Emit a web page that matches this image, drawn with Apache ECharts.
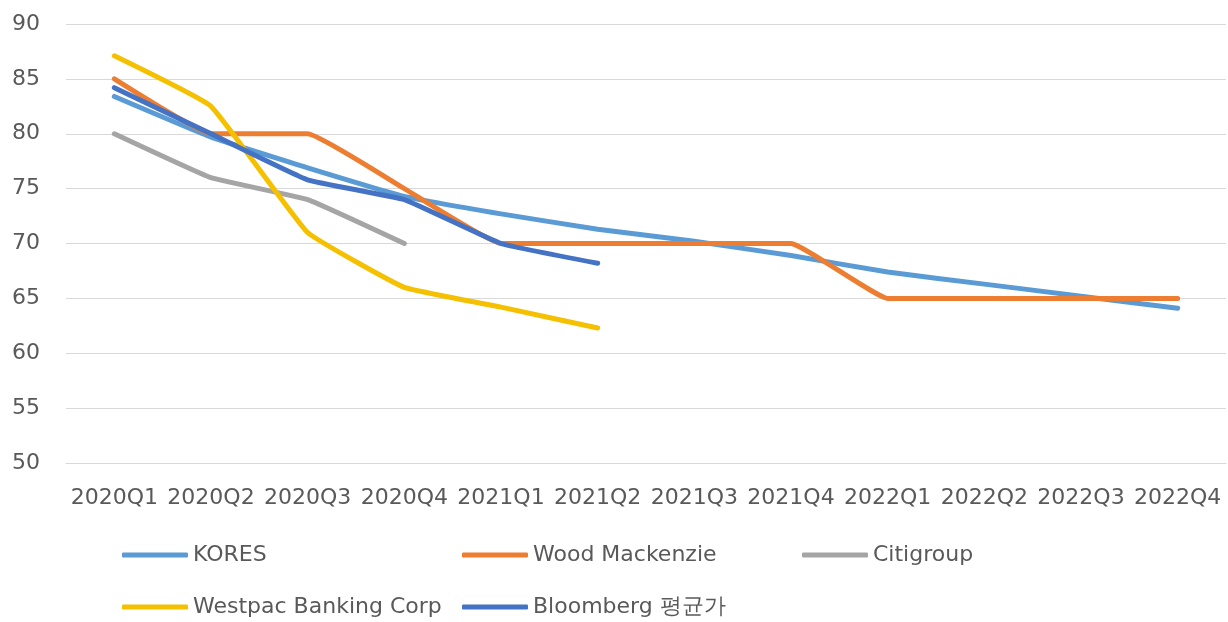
<!DOCTYPE html>
<html>
<head>
<meta charset="utf-8">
<script src="https://cdn.jsdelivr.net/npm/echarts@6/dist/echarts.min.js"></script>
<style>
  html, body { margin: 0; padding: 0; background: #fff; }
  #chart { width: 1228px; height: 622px; }
</style>
</head>
<body>
<div id="chart"></div>
<script>
// Quarterly forecasts by source
const quarters = ['2020Q1', '2020Q2', '2020Q3', '2020Q4', '2021Q1', '2021Q2',
                  '2021Q3', '2021Q4', '2022Q1', '2022Q2', '2022Q3', '2022Q4'];
const kores      = [83.4, 79.7, 76.9, 74.3, 72.7, 71.3, 70.2, 68.9, 67.4, 66.3, 65.2, 64.1];
const woodMac    = [85, 80, 80, 75, 70, 70, 70, 70, 65, 65, 65, 65];
const citigroup  = [80, 76, 74, 70];
const westpac    = [87.1, 82.5, 71, 66, 64.2, 62.3];
const bloomberg  = [84.2, 80, 75.8, 74, 70, 68.2];

const seriesNames  = ['KORES', 'Wood Mackenzie', 'Citigroup', 'Westpac Banking Corp', 'Bloomberg 평균가'];
const seriesData   = [kores, woodMac, citigroup, westpac, bloomberg];
const seriesColors = ['#5B9BD5', '#ED7D31', '#A5A5A5', '#F5C000', '#4472C4'];

const FONT = 'DejaVu Sans';
const TEXT = '#595959';

// legend cells laid out in a 3-column, 2-row grid
const legendCells = [
  { left: 122, top: 544 }, { left: 462, top: 544 }, { left: 802, top: 544 },
  { left: 122, top: 596 }, { left: 462, top: 596 }
];

const chart = echarts.init(document.getElementById('chart'), null, { renderer: 'canvas' });
chart.setOption({
  backgroundColor: '#fff',
  animation: false,
  grid: { left: 66, right: 2, top: 24, bottom: 159, containLabel: false },
  xAxis: {
    type: 'category',
    data: quarters,
    boundaryGap: true,
    axisLine: { show: true, lineStyle: { color: '#D9D9D9', width: 1 } },
    axisTick: { show: false },
    axisLabel: { color: TEXT, fontFamily: FONT, fontSize: 22, margin: 24, interval: 0 }
  },
  yAxis: {
    type: 'value',
    min: 50, max: 90, interval: 5,
    axisLine: { show: false },
    axisTick: { show: false },
    axisLabel: { color: TEXT, fontFamily: FONT, fontSize: 22, margin: 26 },
    splitLine: { lineStyle: { color: '#D9D9D9', width: 1 } }
  },
  legend: legendCells.map((c, i) => ({
    data: [seriesNames[i]],
    left: c.left, top: c.top,
    padding: 0,
    icon: 'roundRect',
    itemWidth: 66, itemHeight: 5,
    textStyle: { color: TEXT, fontFamily: FONT, fontSize: 22 }
  })),
  series: seriesNames.map((name, i) => ({
    name,
    type: 'line',
    data: seriesData[i],
    smooth: 0.1,
    showSymbol: false,
    symbol: 'none',
    color: seriesColors[i],
    lineStyle: { color: seriesColors[i], width: 5, cap: 'round', join: 'round' }
  }))
});
</script>
</body>
</html>
